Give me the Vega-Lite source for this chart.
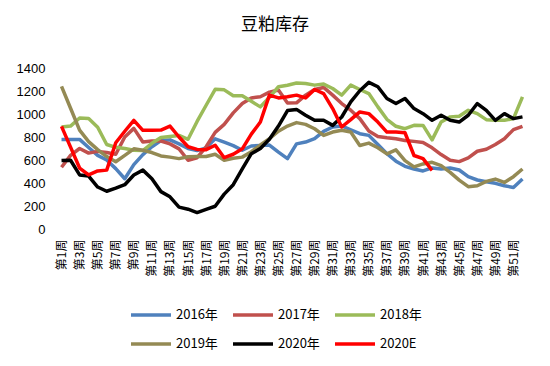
{
  "$schema": "https://vega.github.io/schema/vega-lite/v6.json",
  "autosize": {"type": "none"},
  "width": 470,
  "height": 161,
  "padding": {"left": 57, "top": 68, "right": 23, "bottom": 137},
  "background": "#ffffff",
  "title": {
    "text": "豆粕库存",
    "font": "Noto Sans CJK SC",
    "fontSize": 17,
    "fontWeight": "normal",
    "color": "#000000",
    "anchor": "middle",
    "dx": -17,
    "offset": 28
  },
  "data": {
    "values": [
      {"week": "第1周", "2016年": 779, "2017年": 537, "2018年": 887, "2019年": 1240, "2020年": 595, "2020E": 892},
      {"week": "第2周", "2016年": 779, "2017年": 640, "2018年": 895, "2019年": 1050, "2020年": 598, "2020E": 712},
      {"week": "第3周", "2016年": 779, "2017年": 700, "2018年": 965, "2019年": 860, "2020年": 470, "2020E": 530},
      {"week": "第4周", "2016年": 709, "2017年": 660, "2018年": 960, "2019年": 760, "2020年": 460, "2020E": 470},
      {"week": "第5周", "2016年": 640, "2017年": 675, "2018年": 885, "2019年": 690, "2020年": 365, "2020E": 505},
      {"week": "第6周", "2016年": 600, "2017年": 665, "2018年": 735, "2019年": 630, "2020年": 328, "2020E": 512},
      {"week": "第7周", "2016年": 525, "2017年": 650, "2018年": 710, "2019年": 585, "2020年": 355, "2020E": 750},
      {"week": "第8周", "2016年": 437, "2017年": 800, "2018年": 700, "2019年": 640, "2020年": 385, "2020E": 850},
      {"week": "第9周", "2016年": 560, "2017年": 875, "2018年": 685, "2019年": 697, "2020年": 470, "2020E": 945},
      {"week": "第10周", "2016年": 647, "2017年": 756, "2018年": 682, "2019年": 685, "2020年": 512, "2020E": 858},
      {"week": "第11周", "2016年": 715, "2017年": 765, "2018年": 745, "2019年": 665, "2020年": 437, "2020E": 858},
      {"week": "第12周", "2016年": 770, "2017年": 765, "2018年": 795, "2019年": 635, "2020年": 325, "2020E": 860},
      {"week": "第13周", "2016年": 775, "2017年": 740, "2018年": 805, "2019年": 625, "2020年": 280, "2020E": 895},
      {"week": "第14周", "2016年": 740, "2017年": 697, "2018年": 814, "2019年": 612, "2020年": 190, "2020E": 800},
      {"week": "第15周", "2016年": 700, "2017年": 598, "2018年": 780, "2019年": 628, "2020年": 172, "2020E": 715},
      {"week": "第16周", "2016年": 682, "2017年": 620, "2018年": 935, "2019年": 630, "2020年": 143, "2020E": 692},
      {"week": "第17周", "2016年": 706, "2017年": 715, "2018年": 1076, "2019年": 630, "2020年": 170, "2020E": 690},
      {"week": "第18周", "2016年": 784, "2017年": 840, "2018年": 1215, "2019年": 650, "2020年": 198, "2020E": 728},
      {"week": "第19周", "2016年": 755, "2017年": 910, "2018年": 1210, "2019年": 597, "2020年": 303, "2020E": 620},
      {"week": "第20周", "2016年": 725, "2017年": 1010, "2018年": 1158, "2019年": 615, "2020年": 385, "2020E": 650},
      {"week": "第21周", "2016年": 685, "2017年": 1091, "2018年": 1158, "2019年": 625, "2020年": 522, "2020E": 697},
      {"week": "第22周", "2016年": 722, "2017年": 1140, "2018年": 1110, "2019年": 672, "2020年": 655, "2020E": 825},
      {"week": "第23周", "2016年": 726, "2017年": 1150, "2018年": 1062, "2019年": 730, "2020年": 700, "2020E": 930},
      {"week": "第24周", "2016年": 730, "2017年": 1190, "2018年": 1145, "2019年": 785, "2020年": 780, "2020E": 1164},
      {"week": "第25周", "2016年": 668, "2017年": 1208, "2018年": 1237, "2019年": 850, "2020年": 895, "2020E": 1140},
      {"week": "第26周", "2016年": 612, "2017年": 1095, "2018年": 1250, "2019年": 895, "2020年": 1030, "2020E": 1150},
      {"week": "第27周", "2016年": 740, "2017年": 1097, "2018年": 1270, "2019年": 925, "2020年": 1040, "2020E": 1164},
      {"week": "第28周", "2016年": 756, "2017年": 1164, "2018年": 1266, "2019年": 910, "2020年": 989, "2020E": 1140},
      {"week": "第29周", "2016年": 785, "2017年": 1213, "2018年": 1251, "2019年": 872, "2020年": 945, "2020E": 1213},
      {"week": "第30周", "2016年": 849, "2017年": 1231, "2018年": 1260, "2019年": 814, "2020年": 945, "2020E": 1178},
      {"week": "第31周", "2016年": 887, "2017年": 1164, "2018年": 1222, "2019年": 843, "2020年": 901, "2020E": 1047},
      {"week": "第32周", "2016年": 896, "2017年": 1091, "2018年": 1164, "2019年": 858, "2020年": 974, "2020E": 887},
      {"week": "第33周", "2016年": 863, "2017年": 1033, "2018年": 1251, "2019年": 843, "2020年": 1105, "2020E": 951},
      {"week": "第34周", "2016年": 829, "2017年": 960, "2018年": 1213, "2019年": 726, "2020年": 1202, "2020E": 1018},
      {"week": "第35周", "2016年": 814, "2017年": 852, "2018年": 1178, "2019年": 747, "2020年": 1275, "2020E": 1003},
      {"week": "第36周", "2016年": 735, "2017年": 805, "2018年": 1062, "2019年": 706, "2020年": 1237, "2020E": 930},
      {"week": "第37周", "2016年": 655, "2017年": 793, "2018年": 954, "2019年": 653, "2020年": 1135, "2020E": 843},
      {"week": "第38周", "2016年": 590, "2017年": 785, "2018年": 893, "2019年": 688, "2020年": 1091, "2020E": 843},
      {"week": "第39周", "2016年": 545, "2017年": 770, "2018年": 872, "2019年": 595, "2020年": 1135, "2020E": 837},
      {"week": "第40周", "2016年": 522, "2017年": 762, "2018年": 902, "2019年": 540, "2020年": 1047, "2020E": 639},
      {"week": "第41周", "2016年": 505, "2017年": 752, "2018年": 901, "2019年": 566, "2020年": 1003, "2020E": 612},
      {"week": "第42周", "2016年": 531, "2017年": 706, "2018年": 775, "2019年": 580, "2020年": 945, "2020E": 510},
      {"week": "第43周", "2016年": 522, "2017年": 647, "2018年": 931, "2019年": 551, "2020年": 989, "2020E": null},
      {"week": "第44周", "2016年": 531, "2017年": 598, "2018年": 975, "2019年": 493, "2020年": 945, "2020E": null},
      {"week": "第45周", "2016年": 513, "2017年": 586, "2018年": 980, "2019年": 425, "2020年": 930, "2020E": null},
      {"week": "第46周", "2016年": 455, "2017年": 618, "2018年": 1032, "2019年": 368, "2020年": 989, "2020E": null},
      {"week": "第47周", "2016年": 426, "2017年": 676, "2018年": 1003, "2019年": 376, "2020年": 1091, "2020E": null},
      {"week": "第48周", "2016年": 411, "2017年": 694, "2018年": 951, "2019年": 414, "2020年": 1032, "2020E": null},
      {"week": "第49周", "2016年": 397, "2017年": 735, "2018年": 945, "2019年": 434, "2020年": 945, "2020E": null},
      {"week": "第50周", "2016年": 376, "2017年": 785, "2018年": 945, "2019年": 405, "2020年": 1003, "2020E": null},
      {"week": "第51周", "2016年": 361, "2017年": 864, "2018年": 960, "2019年": 455, "2020年": 960, "2020E": null},
      {"week": "第52周", "2016年": 434, "2017年": 893, "2018年": 1149, "2019年": 522, "2020年": 975, "2020E": null}
    ]
  },
  "transform": [
    {"fold": ["2016年", "2017年", "2018年", "2019年", "2020年", "2020E"], "as": ["series", "value"]}
  ],
  "mark": {"type": "line", "strokeWidth": 3.5, "strokeJoin": "round", "strokeCap": "butt"},
  "encoding": {
    "x": {
      "field": "week",
      "type": "ordinal",
      "sort": null,
      "scale": {"paddingOuter": 0.5},
      "axis": {
        "title": null,
        "domain": false,
        "ticks": false,
        "grid": false,
        "labelAngle": -90,
        "labelPadding": 10,
        "labelFont": "Noto Sans CJK SC",
        "labelFontSize": 12,
        "labelColor": "#000000",
        "values": ["第1周", "第3周", "第5周", "第7周", "第9周", "第11周", "第13周", "第15周", "第17周", "第19周", "第21周", "第23周", "第25周", "第27周", "第29周", "第31周", "第33周", "第35周", "第37周", "第39周", "第41周", "第43周", "第45周", "第47周", "第49周", "第51周"]
      }
    },
    "y": {
      "field": "value",
      "type": "quantitative",
      "scale": {"domain": [0, 1400], "nice": false},
      "axis": {
        "title": null,
        "domain": false,
        "ticks": false,
        "grid": false,
        "format": "d",
        "values": [0, 200, 400, 600, 800, 1000, 1200, 1400],
        "labelPadding": 12,
        "labelFont": "Liberation Sans",
        "labelFontSize": 13,
        "labelColor": "#000000"
      }
    },
    "color": {
      "field": "series",
      "type": "nominal",
      "scale": {
        "domain": ["2016年", "2017年", "2018年", "2019年", "2020年", "2020E"],
        "range": ["#4F81BD", "#C0504D", "#9BBB59", "#948A54", "#000000", "#FF0000"]
      },
      "legend": {
        "title": null,
        "orient": "none",
        "legendX": 72,
        "legendY": 225,
        "direction": "horizontal",
        "columns": 3,
        "symbolType": "stroke",
        "symbolSize": 1600,
        "symbolStrokeWidth": 3.5,
        "labelFont": "Noto Sans CJK SC",
        "labelFontSize": 13,
        "labelColor": "#000000",
        "labelOffset": 3,
        "columnPadding": 8,
        "rowPadding": -10
      }
    }
  },
  "config": {"view": {"stroke": null}}
}
